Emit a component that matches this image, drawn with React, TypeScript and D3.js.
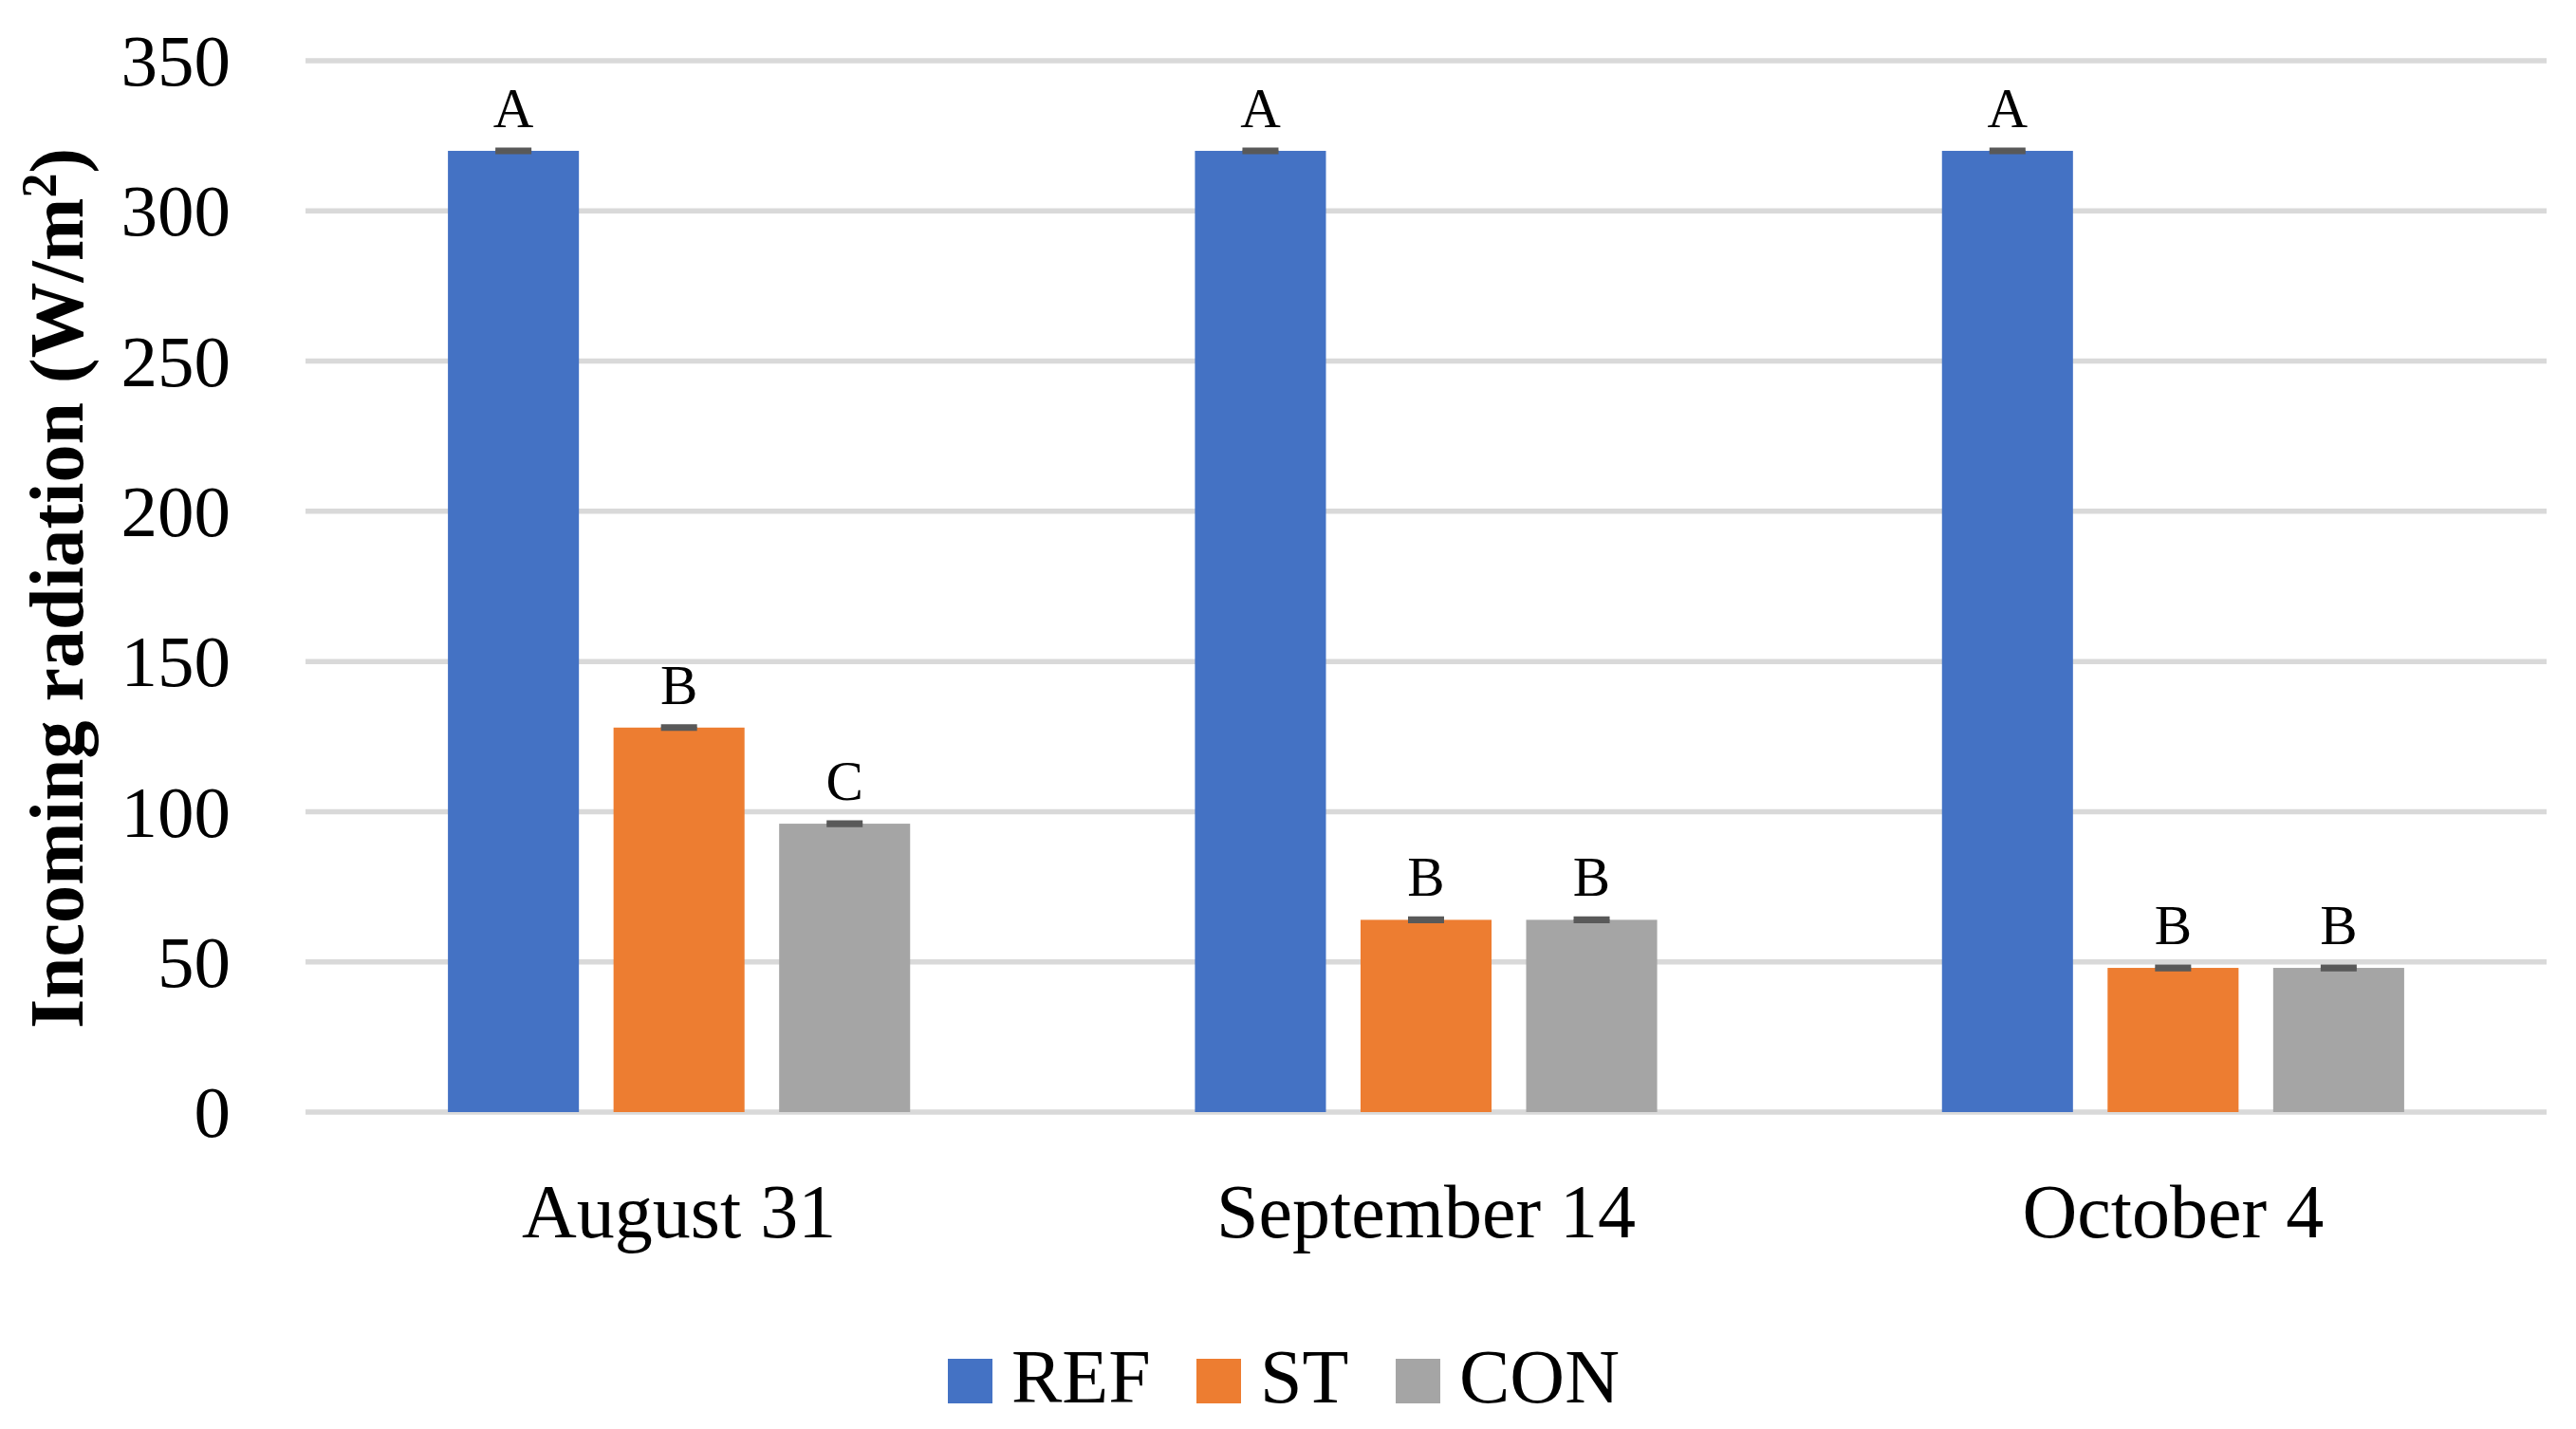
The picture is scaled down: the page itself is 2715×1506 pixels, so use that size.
import React from "react";
import * as d3 from "d3";

const dates = ["August 31", "September 14", "October 4"];
const seriesNames = ["REF", "ST", "CON"];
const refValues = [320, 320, 320];
const stValues = [128, 64, 48];
const conValues = [96, 64, 48];
const errors = [0.5, 0.5, 0.5];
const refLetters = ["A", "A", "A"];
const stLetters = ["B", "B", "B"];
const conLetters = ["C", "B", "B"];
const yTicks = [0, 50, 100, 150, 200, 250, 300, 350];
const colors = ["#4472C4", "#ED7D31", "#A5A5A5"];

const W = 2715;
const H = 1506;
const FONT = "'Liberation Serif', 'Times New Roman', serif";

export default function App() {
  const plotLeft = 322;
  const plotRight = 2684;
  const y = d3.scaleLinear().domain([0, 350]).range([1172, 64]);
  const x0 = d3.scaleBand<string>().domain(dates).range([plotLeft, plotRight]).padding(0);
  const x1 = d3
    .scaleBand<string>()
    .domain(seriesNames)
    .range([0, x0.bandwidth()])
    .paddingInner(0.209)
    .paddingOuter(0.86);

  const valuesBySeries = [refValues, stValues, conValues];
  const lettersBySeries = [refLetters, stLetters, conLetters];

  const bars: any[] = [];
  dates.forEach((d, i) => {
    seriesNames.forEach((s, j) => {
      bars.push({
        date: d,
        series: s,
        value: valuesBySeries[j][i],
        err: errors[i],
        letter: lettersBySeries[j][i],
        color: colors[j],
      });
    });
  });

  const capW = 38;
  const legendX = [999, 1261, 1471];

  return (
    <svg
      width={W}
      height={H}
      style={{ position: "absolute", left: 0, top: 0, background: "#fff" }}
      fontFamily={FONT}
    >
      <rect x={0} y={0} width={W} height={H} fill="#fff" />
      {yTicks.map((t) => (
        <g key={t}>
          <line x1={plotLeft} x2={plotRight} y1={y(t)} y2={y(t)} stroke="#D9D9D9" strokeWidth={5.5} />
          <text x={243} y={y(t)} dy="0.34em" textAnchor="end" fontSize={77} fill="#000">
            {t}
          </text>
        </g>
      ))}
      {bars.map((b, k) => {
        const bx = (x0(b.date) as number) + (x1(b.series) as number);
        const bw = x1.bandwidth();
        const cx = bx + bw / 2;
        return (
          <g key={k}>
            <rect x={bx} y={y(b.value)} width={bw} height={y(0) - y(b.value)} fill={b.color} />
            <line x1={cx} x2={cx} y1={y(b.value + b.err)} y2={y(b.value - b.err)} stroke="#595959" strokeWidth={4} />
            <line x1={cx - capW / 2} x2={cx + capW / 2} y1={y(b.value + b.err)} y2={y(b.value + b.err)} stroke="#595959" strokeWidth={4} />
            <line x1={cx - capW / 2} x2={cx + capW / 2} y1={y(b.value - b.err)} y2={y(b.value - b.err)} stroke="#595959" strokeWidth={4} />
            <text x={cx} y={y(b.value) - 25} textAnchor="middle" fontSize={59} fill="#000">
              {b.letter}
            </text>
          </g>
        );
      })}
      {dates.map((d) => (
        <text
          key={d}
          x={(x0(d) as number) + x0.bandwidth() / 2}
          y={1304}
          textAnchor="middle"
          fontSize={80}
          fill="#000"
        >
          {d}
        </text>
      ))}
      <text
        transform={`translate(87, 620) rotate(-90)`}
        textAnchor="middle"
        fontSize={80}
        fontWeight="bold"
        fill="#000"
      >
        Incoming radiation (W/m
        <tspan baselineShift="super" fontSize={52}>2</tspan>)
      </text>
      {seriesNames.map((s, j) => (
        <g key={s}>
          <rect x={legendX[j]} y={1432} width={47} height={47} fill={colors[j]} />
          <text x={legendX[j] + 67} y={1478} fontSize={80} fill="#000">
            {s}
          </text>
        </g>
      ))}
    </svg>
  );
}
